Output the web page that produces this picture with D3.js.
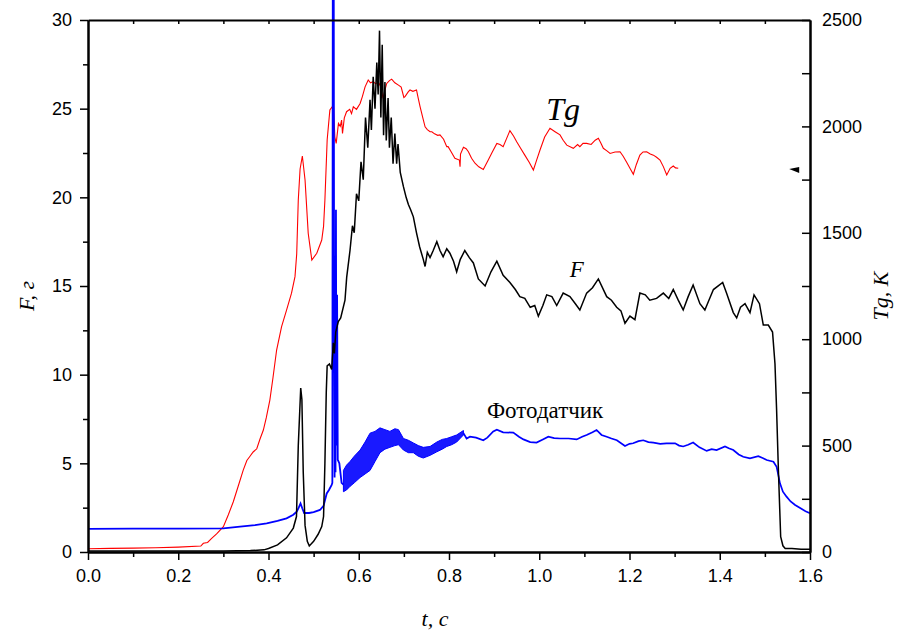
<!DOCTYPE html>
<html><head><meta charset="utf-8">
<script src="https://cdn.jsdelivr.net/npm/d3@7"></script>
<style>body{margin:0;background:#fff}svg{display:block}</style>
</head><body>
<svg id="chart" width="910" height="630"></svg>
<script>
// ---- data (t in s) ----
const xTicks = [0,0.2,0.4,0.6,0.8,1.0,1.2,1.4,1.6];
const leftTicks = [0,5,10,15,20,25,30];
const rightTicks = [0,500,1000,1500,2000,2500];

// F, g (black)
const forceData = [[0,0.05],[0.1,0.05],[0.2,0.06],[0.3,0.06],[0.36,0.08],[0.39,0.12],[0.40,0.2],[0.42,0.4],[0.44,0.8],[0.455,1.35],[0.462,2.0],[0.466,6.0],[0.4714,9.25],[0.474,8.6],[0.477,4.5],[0.481,1.5],[0.486,0.6],[0.4904,0.34],[0.50,0.6],[0.51,1.0],[0.518,1.43],[0.522,2.0],[0.525,5.0],[0.528,9.0],[0.530,10.5],[0.535,10.6],[0.540,10.3],[0.5436,11.8],[0.546,11.2],[0.549,12.4],[0.5547,13.0],[0.56,13.2],[0.5695,14.2],[0.5733,15.5],[0.5806,17.0],[0.586,18.4],[0.59,18.0],[0.595,20.2],[0.60,19.8],[0.605,22.0],[0.61,21.0],[0.615,24.5],[0.62,22.8],[0.625,25.5],[0.628,23.8],[0.632,26.8],[0.636,25.0],[0.64,27.6],[0.643,25.8],[0.646,29.4],[0.649,24.5],[0.652,28.6],[0.655,23.5],[0.658,26.5],[0.661,23.2],[0.665,25.6],[0.668,22.8],[0.672,24.5],[0.676,21.9],[0.68,23.6],[0.684,21.9],[0.687,23.0],[0.692,21.4],[0.699,20.6],[0.705,20.0],[0.710,19.6],[0.715,19.3],[0.721,18.9],[0.728,18.0],[0.735,17.2],[0.743,16.5],[0.747,16.1],[0.752,16.9],[0.758,16.6],[0.765,17.0],[0.773,17.5],[0.780,17.0],[0.787,16.65],[0.795,17.1],[0.802,16.85],[0.810,16.4],[0.817,15.8],[0.825,16.5],[0.835,17.0],[0.845,16.6],[0.854,16.3],[0.865,15.4],[0.880,15.0],[0.893,15.8],[0.906,16.4],[0.920,15.6],[0.935,15.2],[0.947,14.8],[0.957,14.4],[0.968,14.3],[0.980,13.8],[0.990,13.9],[0.998,13.3],[1.008,13.9],[1.0165,14.5],[1.028,14.4],[1.0387,13.9],[1.053,14.6],[1.068,14.4],[1.080,14.0],[1.090,13.65],[1.105,14.6],[1.118,14.9],[1.131,15.4],[1.1495,14.4],[1.160,14.2],[1.1716,13.8],[1.181,13.6],[1.190,12.9],[1.201,13.3],[1.212,13.1],[1.223,14.6],[1.235,14.5],[1.245,14.2],[1.260,14.3],[1.275,14.6],[1.287,14.3],[1.297,14.8],[1.308,14.2],[1.319,13.65],[1.330,14.4],[1.341,15.06],[1.356,14.0],[1.367,13.65],[1.376,14.2],[1.386,14.8],[1.4065,15.2],[1.415,14.6],[1.430,13.5],[1.4375,13.2],[1.446,13.8],[1.456,14.0],[1.467,13.5],[1.476,14.5],[1.488,14.0],[1.4965,12.8],[1.5076,12.8],[1.517,12.4],[1.5224,10.6],[1.526,8.0],[1.530,4.6],[1.535,0.86],[1.540,0.35],[1.545,0.2],[1.56,0.2],[1.58,0.15],[1.60,0.15]];

// Tg, K (red)
const tempData = [[0,15],[0.05,17],[0.1,18],[0.15,20],[0.2,23],[0.25,28],[0.2556,41],[0.265,45],[0.274,64],[0.285,85],[0.300,119],[0.311,175],[0.322,236],[0.333,310],[0.344,385],[0.352,430],[0.359,450],[0.366,470],[0.374,485],[0.381,530],[0.3886,573],[0.395,630],[0.403,714],[0.410,820],[0.418,949],[0.429,1059],[0.440,1137],[0.451,1216],[0.4587,1294],[0.4625,1400],[0.466,1654],[0.470,1800],[0.475,1861],[0.481,1748],[0.488,1498],[0.496,1372],[0.507,1404],[0.518,1466],[0.522,1530],[0.525,1654],[0.530,1936],[0.536,2077],[0.544,2100],[0.547,1950],[0.550,1920],[0.555,2014],[0.559,2000],[0.562,2030],[0.564,1967],[0.568,2040],[0.573,2069],[0.580,2080],[0.584,2060],[0.588,2092],[0.595,2080],[0.603,2108],[0.608,2140],[0.614,2186],[0.621,2218],[0.626,2205],[0.632,2210],[0.638,2200],[0.643,2210],[0.648,2190],[0.654,2132],[0.658,2170],[0.662,2202],[0.668,2215],[0.673,2222],[0.680,2205],[0.688,2194],[0.694,2185],[0.700,2136],[0.7025,2140],[0.710,2163],[0.7136,2171],[0.720,2165],[0.728,2171],[0.732,2130],[0.736,2092],[0.742,2040],[0.747,1998],[0.752,1985],[0.758,1975],[0.762,1975],[0.768,1965],[0.775,1958],[0.780,1960],[0.788,1940],[0.795,1905],[0.798,1905],[0.805,1880],[0.813,1850],[0.823,1842],[0.8245,1811],[0.8255,1870],[0.832,1902],[0.838,1895],[0.843,1881],[0.850,1850],[0.8576,1827],[0.866,1810],[0.876,1798],[0.887,1842],[0.896,1880],[0.906,1920],[0.913,1915],[0.920,1905],[0.928,1945],[0.935,1980],[0.943,1955],[0.950,1928],[0.958,1900],[0.968,1865],[0.978,1830],[0.987,1795],[0.994,1840],[1.0017,1889],[1.012,1950],[1.0238,1991],[1.035,1975],[1.046,1960],[1.053,1935],[1.061,1912],[1.0755,1897],[1.085,1915],[1.09,1905],[1.097,1920],[1.105,1920],[1.115,1915],[1.124,1935],[1.131,1944],[1.137,1920],[1.142,1897],[1.150,1885],[1.157,1873],[1.168,1880],[1.179,1881],[1.186,1860],[1.194,1830],[1.201,1803],[1.2085,1775],[1.215,1820],[1.223,1865],[1.230,1880],[1.238,1881],[1.246,1870],[1.253,1865],[1.260,1855],[1.2676,1842],[1.275,1811],[1.2825,1772],[1.290,1803],[1.297,1814],[1.302,1805],[1.308,1803]];

// photodetector (blue), left-axis units
const photoStart = [[0,1.3],[0.1,1.32],[0.2,1.32],[0.3,1.33],[0.337,1.43],[0.37,1.52],[0.396,1.62],[0.42,1.75],[0.440,1.9],[0.455,2.1],[0.4625,2.27],[0.467,2.5],[0.471,2.74],[0.475,2.45],[0.479,2.2],[0.49,2.2],[0.5,2.25],[0.514,2.37],[0.522,2.6],[0.529,3.3],[0.534,3.5],[0.540,3.78],[0.5415,3.9],[0.5425,34],[0.5445,34],[0.5455,12],[0.5465,4.2],[0.5475,13],[0.5485,4.5],[0.5495,19.3],[0.5505,6.0],[0.552,14.5],[0.5535,5.2],[0.557,5.0],[0.562,3.9],[0.566,3.8]];
// noisy band: [t, low, high]
const photoBand = [[0.566,3.4,4.6],[0.573,3.5,4.9],[0.5806,3.7,5.1],[0.59,3.9,5.4],[0.603,4.2,5.75],[0.614,4.4,6.2],[0.625,4.6,6.7],[0.636,5.1,6.8],[0.647,5.6,7.0],[0.658,5.8,6.9],[0.669,5.9,6.8],[0.680,6.0,6.95],[0.688,6.05,6.9],[0.699,5.75,6.4],[0.710,5.6,6.3],[0.721,5.6,6.15],[0.732,5.4,6.0],[0.743,5.3,5.9],[0.758,5.45,5.95],[0.773,5.65,6.2],[0.785,5.8,6.35],[0.795,5.95,6.4],[0.806,6.05,6.5],[0.817,6.2,6.6],[0.832,6.6,6.85]];
const photoEnd = [[0.832,6.7],[0.839,6.4],[0.8465,6.5],[0.86,6.45],[0.876,6.3],[0.885,6.45],[0.898,6.8],[0.906,6.9],[0.920,6.75],[0.9425,6.73],[0.955,6.5],[0.965,6.35],[0.98,6.2],[0.994,6.17],[1.008,6.35],[1.020,6.5],[1.033,6.42],[1.046,6.4],[1.065,6.4],[1.083,6.35],[1.095,6.5],[1.105,6.6],[1.118,6.75],[1.127,6.88],[1.138,6.6],[1.1495,6.5],[1.16,6.4],[1.172,6.3],[1.190,5.98],[1.200,6.1],[1.208,6.13],[1.22,6.25],[1.2306,6.3],[1.242,6.2],[1.253,6.17],[1.268,6.1],[1.282,6.13],[1.301,6.13],[1.310,6.0],[1.319,5.95],[1.330,6.05],[1.341,6.17],[1.355,5.9],[1.371,5.7],[1.382,5.8],[1.393,5.75],[1.4116,5.95],[1.420,5.85],[1.430,5.75],[1.442,5.5],[1.452,5.37],[1.467,5.28],[1.4855,5.4],[1.495,5.3],[1.504,5.19],[1.519,5.09],[1.526,4.8],[1.5335,3.87],[1.540,3.4],[1.548,3.12],[1.557,2.85],[1.567,2.65],[1.58,2.45],[1.59,2.3],[1.60,2.18]];

// marker on right axis side
const markerPoint = [1.565, 1790];

// ---- layout ----
const W = 910, H = 630;
const m = {left: 88, right: 100, top: 20, bottom: 78};
const svg = d3.select('#chart');
const x = d3.scaleLinear().domain([0, 1.6]).range([m.left, W - m.right]);
const yL = d3.scaleLinear().domain([0, 30]).range([H - m.bottom, m.top]);
const yR = d3.scaleLinear().domain([0, 2500]).range([H - m.bottom, m.top]);

const sans = "'Liberation Sans', Arial, sans-serif";
const serif = "'Liberation Serif', 'Times New Roman', serif";

// data lines
const lineL = d3.line().x(d => x(d[0])).y(d => yL(d[1]));
const lineR = d3.line().x(d => x(d[0])).y(d => yR(d[1]));

svg.append('path').datum(tempData).attr('d', lineR)
  .attr('fill', 'none').attr('stroke', '#ff0000').attr('stroke-width', 1.1);

svg.append('path').datum(photoBand)
  .attr('d', d3.area().x(d => x(d[0])).y0(d => yL(d[1])).y1(d => yL(d[2])))
  .attr('fill', '#0000ff').attr('fill-opacity', 0.9).attr('stroke', '#0000ff').attr('stroke-width', 1);
svg.append('path').datum(photoStart).attr('d', lineL)
  .attr('fill', 'none').attr('stroke', '#0000ff').attr('stroke-width', 1.8);
svg.append('path').datum(photoEnd).attr('d', lineL)
  .attr('fill', 'none').attr('stroke', '#0000ff').attr('stroke-width', 1.7);

svg.append('path').datum(forceData).attr('d', lineL)
  .attr('fill', 'none').attr('stroke', '#000').attr('stroke-width', 1.5);

// marker
const mx = x(markerPoint[0]), my = yR(markerPoint[1]);
svg.append('path')
  .attr('d', `M${mx-5},${my-2} L${mx+5},${my-4} L${mx+5},${my+2} Z`)
  .attr('fill', '#000');

// ---- axes ----
const gx = svg.append('g').attr('transform', `translate(0,${H - m.bottom})`)
  .call(d3.axisBottom(x).tickValues(xTicks).tickFormat(d3.format('.1f')).tickSizeInner(8).tickSizeOuter(0).tickPadding(6));
const gxMinor = svg.append('g').attr('transform', `translate(0,${H - m.bottom})`)
  .call(d3.axisBottom(x).tickValues(d3.range(1, 16, 2).map(v => v / 10)).tickFormat('').tickSizeInner(5).tickSizeOuter(0));
const gxTop = svg.append('g').attr('transform', `translate(0,${m.top})`)
  .call(d3.axisBottom(x).tickValues(d3.range(1, 16).map(v => v / 10)).tickFormat('').tickSizeInner(4).tickSizeOuter(0));

const gl = svg.append('g').attr('transform', `translate(${m.left},0)`)
  .call(d3.axisLeft(yL).tickValues(leftTicks).tickFormat(d3.format('d')).tickSizeInner(8).tickSizeOuter(0).tickPadding(8));
const glMinor = svg.append('g').attr('transform', `translate(${m.left},0)`)
  .call(d3.axisLeft(yL).tickValues([2.5,7.5,12.5,17.5,22.5,27.5]).tickFormat('').tickSizeInner(5).tickSizeOuter(0));

const gr = svg.append('g').attr('transform', `translate(${W - m.right},0)`)
  .call(d3.axisRight(yR).tickValues(rightTicks).tickFormat(d3.format('d')).tickSizeInner(-8).tickSizeOuter(0).tickPadding(20));
const grMinor = svg.append('g').attr('transform', `translate(${W - m.right},0)`)
  .call(d3.axisRight(yR).tickValues([250,750,1250,1750,2250]).tickFormat('').tickSizeInner(-8).tickSizeOuter(0));

[gx, gxMinor, gxTop, gl, glMinor, gr, grMinor].forEach(g => {
  g.selectAll('.domain').attr('stroke', '#000').attr('stroke-width', 2);
  g.selectAll('.tick line').attr('stroke', '#000').attr('stroke-width', 1.5);
  g.selectAll('text').attr('font-family', sans).attr('font-size', 18).attr('fill', '#000');
});
gx.selectAll('text').attr('dy', '0.9em');
gr.selectAll('text').attr('text-anchor', 'start').attr('x', 12);

// axis titles
svg.append('text').attr('x', 435).attr('y', 626)
  .attr('font-family', serif).attr('font-style', 'italic').attr('font-size', 22)
  .attr('text-anchor', 'middle').text('t, c');
svg.append('text').attr('transform', 'translate(34,296) rotate(-90)')
  .attr('font-family', serif).attr('font-style', 'italic').attr('font-size', 22)
  .attr('text-anchor', 'middle').text('F, г');
svg.append('text').attr('transform', 'translate(888,296) rotate(-90)')
  .attr('font-family', serif).attr('font-style', 'italic').attr('font-size', 22)
  .attr('text-anchor', 'middle').text('Tg, K');

// in-plot labels
svg.append('text').attr('x', x(1.053)).attr('y', yR(2030))
  .attr('font-family', serif).attr('font-style', 'italic').attr('font-size', 32)
  .attr('text-anchor', 'middle').text('Tg');
svg.append('text').attr('x', x(1.083)).attr('y', yL(15.5))
  .attr('font-family', serif).attr('font-style', 'italic').attr('font-size', 23)
  .attr('text-anchor', 'middle').text('F');
svg.append('text').attr('x', x(1.013)).attr('y', yL(7.55))
  .attr('font-family', serif).attr('font-size', 23)
  .attr('text-anchor', 'middle').text('Фотодатчик');
</script>
</body></html>
